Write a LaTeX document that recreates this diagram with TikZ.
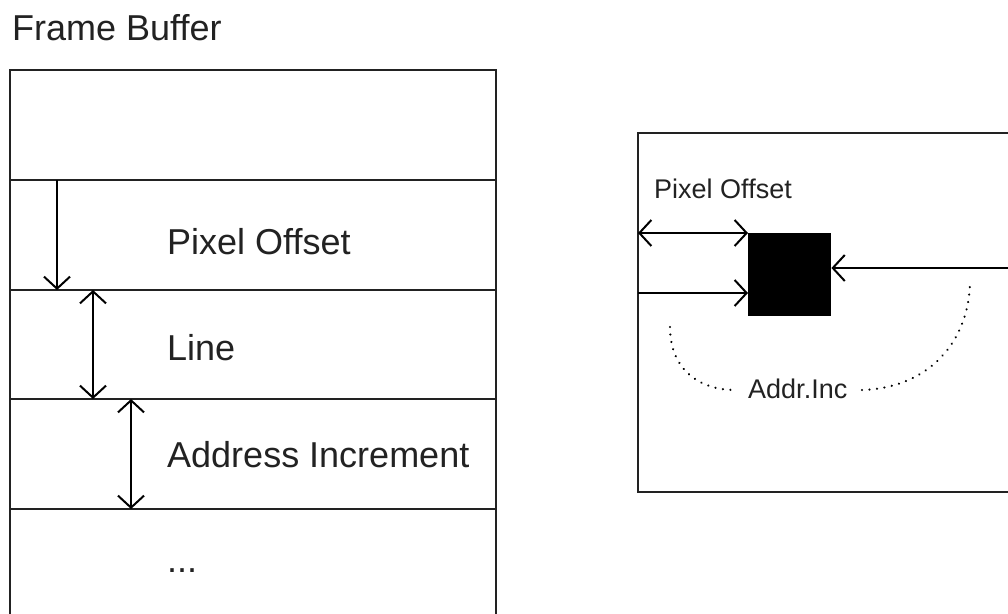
\documentclass[tikz,border=0pt]{standalone}
\usepackage{fontspec}
\setmainfont{Liberation Sans}
\usetikzlibrary{arrows.meta}
\definecolor{ink}{HTML}{222222}
\tikzset{
  frameline/.style={draw=ink, line width=2pt},
  conn/.style={draw=black, line width=2pt},
  barb/.tip={Straight Barb[length=12pt, width=26pt, line width=2pt]},
  bigtxt/.style={anchor=base west, inner sep=0pt, text=ink, font=\fontsize{36}{40}\selectfont},
  smalltxt/.style={anchor=base west, inner sep=0pt, text=ink, font=\fontsize{27}{30}\selectfont},
  dots/.style={draw=black, line width=2.4pt, line cap=round, dash pattern=on 0.01pt off 7.5pt}
}
\begin{document}
\begin{tikzpicture}[x=1pt, y=-1pt]
\useasboundingbox (0,0) rectangle (1008,613);
\clip (0,0) rectangle (1008,613);
% title
\node[bigtxt] (title) at (12,40) {Frame Buffer};
% left frame
\coordinate (fTL) at (10,70);
\coordinate (fTR) at (496,70);
\draw[frameline] (10,625) -- (fTL) -- (fTR) -- (496,625);
\foreach \y/\n in {180/a,290/b,399/c,509/d}{
  \coordinate (L\n) at (10,\y);
  \coordinate (R\n) at (496,\y);
  \draw[frameline] (L\n) -- (R\n);
}
\node[bigtxt] (t1) at (167,254) {Pixel Offset};
\node[bigtxt] (t2) at (167,360) {Line};
\node[bigtxt] (t3) at (167,467) {Address Increment};
\node[bigtxt] (t4) at (167,572) {...};
% left arrows
\coordinate (a1s) at (57,180);
\coordinate (a1e) at (57,290);
\coordinate (a2s) at (93,290);
\coordinate (a2e) at (93,399);
\coordinate (a3s) at (131,399);
\coordinate (a3e) at (131,509);
\draw[conn, -{barb}] (a1s) -- (a1e);
\draw[conn, {barb}-{barb}] (a2s) -- (a2e);
\draw[conn, {barb}-{barb}] (a3s) -- (a3e);
% right box
\draw[frameline] (1020,133) -- (638,133) -- (638,492) -- (1020,492);
\node[smalltxt] (t5) at (654,198) {Pixel Offset};
\node[fill=black, minimum width=83pt, minimum height=83pt, inner sep=0pt, anchor=north west] (px) at (748,233) {};
\coordinate (b1) at (638,233);
\coordinate (b2) at (638,293);
\coordinate (b3) at (1010,268);
\draw[conn, {barb}-{barb}] (b1) -- (px.north west);
\draw[conn, -{barb}] (b2) -- (px.west |- b2);
\draw[conn, -{barb}] (b3) -- (px.east |- b3);
\node[smalltxt] (t6) at (748,398) {Addr.Inc};
\coordinate (d1) at (670,327);
\coordinate (d2) at (735,390);
\coordinate (d3) at (862,390);
\coordinate (d4) at (970,280);
\draw[dots] (d1) .. controls (670,370) and (700,390) .. (d2);
\draw[dots] (d3) .. controls (930,388) and (970,340) .. (d4);
\end{tikzpicture}
\end{document}
